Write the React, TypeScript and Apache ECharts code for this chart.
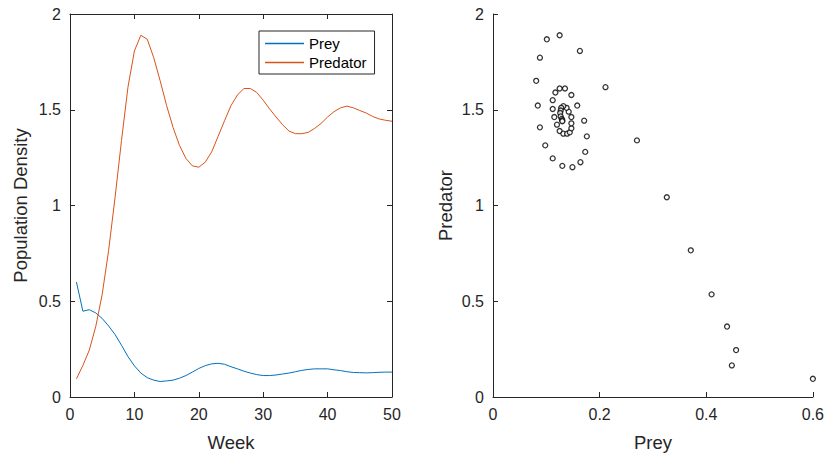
import React, { useEffect, useRef } from "react";
import * as echarts from "echarts";

const weeks = [
  1, 2, 3, 4, 5, 6, 7, 8, 9, 10, 11, 12, 13, 14, 15, 16, 17, 18, 19, 20, 21, 22, 23, 24, 25,
  26, 27, 28, 29, 30, 31, 32, 33, 34, 35, 36, 37, 38, 39, 40, 41, 42, 43, 44, 45, 46, 47, 48, 49, 50,
];

const prey = [
  0.6, 0.448, 0.456, 0.439, 0.41, 0.371, 0.326, 0.27, 0.211, 0.163,
  0.125, 0.101, 0.088, 0.081, 0.084, 0.088, 0.098, 0.112, 0.13, 0.149,
  0.164, 0.173, 0.176, 0.171, 0.158, 0.147, 0.135, 0.125, 0.117, 0.112,
  0.112, 0.115, 0.12, 0.125, 0.132, 0.139, 0.144, 0.147, 0.147, 0.147,
  0.142, 0.138, 0.132, 0.128, 0.127, 0.126, 0.127, 0.129, 0.13, 0.13,
];

const predator = [
  0.095, 0.165, 0.245, 0.368, 0.536, 0.766, 1.043, 1.34, 1.618, 1.807,
  1.889, 1.868, 1.772, 1.651, 1.522, 1.408, 1.314, 1.246, 1.207, 1.2,
  1.226, 1.28, 1.361, 1.443, 1.522, 1.577, 1.611, 1.611, 1.59, 1.55,
  1.504, 1.462, 1.422, 1.389, 1.375, 1.375, 1.382, 1.403, 1.429, 1.462,
  1.49, 1.51, 1.519, 1.51, 1.496, 1.483, 1.465, 1.452, 1.445, 1.44,
];

const seriesNames = ["Prey", "Predator"];
const axisTitles = { week: "Week", density: "Population Density", prey: "Prey", predator: "Predator" };

const FONT = "'Liberation Sans', Arial, Helvetica, sans-serif";
const AX = "#262626";

export default function App() {
  const ref = useRef<HTMLDivElement>(null);
  useEffect(() => {
    if (!ref.current) return;
    const chart = echarts.init(ref.current, undefined, { renderer: "svg" });
    const axisLine = { show: true, onZero: false, lineStyle: { color: AX, width: 1 } };
    const tick = { show: true, inside: true, length: 5, lineStyle: { color: AX, width: 1 } };
    const label = { color: AX, fontSize: 16, fontFamily: FONT, margin: 9 };
    const nameStyle = { color: AX, fontSize: 18.5, fontFamily: FONT };
    const option: any = {
      animation: false,
      backgroundColor: "#fff",
      textStyle: { fontFamily: FONT },
      grid: [
        { left: 70, top: 14, width: 322, height: 384 },
        { left: 493, top: 14, width: 322, height: 384 },
      ],
      legend: {
        data: seriesNames,
        left: 259,
        top: 31,
        orient: "vertical",
        icon: "rect",
        itemWidth: 39,
        itemHeight: 1.5,
        itemGap: 4,
        itemTextGap: 5,
        padding: [5, 8, 4, 6],
        borderColor: AX,
        borderWidth: 1,
        borderRadius: 0,
        backgroundColor: "#fff",
        textStyle: { color: "#000", fontSize: 15, fontFamily: FONT },
      },
      xAxis: [
        {
          type: "value", gridIndex: 0, position: "bottom", min: 0, max: 50, interval: 10,
          axisLine, axisTick: tick, axisLabel: label, splitLine: { show: false },
          name: axisTitles.week, nameLocation: "middle", nameGap: 36, nameTextStyle: nameStyle,
        },
        {
          type: "value", gridIndex: 0, position: "top", min: 0, max: 50, interval: 10,
          axisLine, axisTick: tick, axisLabel: { show: false }, splitLine: { show: false },
        },
        {
          type: "value", gridIndex: 1, position: "bottom", min: 0, max: 0.6, interval: 0.2,
          axisLine, axisTick: tick, axisLabel: label, splitLine: { show: false },
          name: axisTitles.prey, nameLocation: "middle", nameGap: 36, nameTextStyle: nameStyle,
        },
      ],
      yAxis: [
        {
          type: "value", gridIndex: 0, position: "left", min: 0, max: 2, interval: 0.5,
          axisLine, axisTick: tick, axisLabel: label, splitLine: { show: false },
          name: axisTitles.density, nameLocation: "middle", nameGap: 40, nameTextStyle: nameStyle,
        },
        {
          type: "value", gridIndex: 0, position: "right", min: 0, max: 2, interval: 0.5,
          axisLine, axisTick: tick, axisLabel: { show: false }, splitLine: { show: false },
        },
        {
          type: "value", gridIndex: 1, position: "left", min: 0, max: 2, interval: 0.5,
          axisLine, axisTick: tick, axisLabel: label, splitLine: { show: false },
          name: axisTitles.predator, nameLocation: "middle", nameGap: 38, nameTextStyle: nameStyle,
        },
      ],
      series: [
        {
          name: seriesNames[0], type: "line", xAxisIndex: 0, yAxisIndex: 0,
          data: weeks.map((w, i) => [w, prey[i]]),
          symbol: "none", color: "#0072BD", lineStyle: { width: 1, color: "#0072BD" },
        },
        {
          name: seriesNames[1], type: "line", xAxisIndex: 0, yAxisIndex: 0,
          data: weeks.map((w, i) => [w, predator[i]]),
          symbol: "none", color: "#D95319", lineStyle: { width: 1, color: "#D95319" },
        },
        {
          name: "phase", type: "scatter", xAxisIndex: 2, yAxisIndex: 2,
          data: prey.map((p, i) => [p, predator[i]]),
          symbol: "circle", symbolSize: 5,
          itemStyle: { color: "#fff", borderColor: "#000", borderWidth: 1.3 },
        },
      ],
    };
    chart.setOption(option);
    return () => chart.dispose();
  }, []);
  return (
    <div
      ref={ref}
      style={{ position: "absolute", left: 0, top: 0, width: 827, height: 457 }}
    />
  );
}
